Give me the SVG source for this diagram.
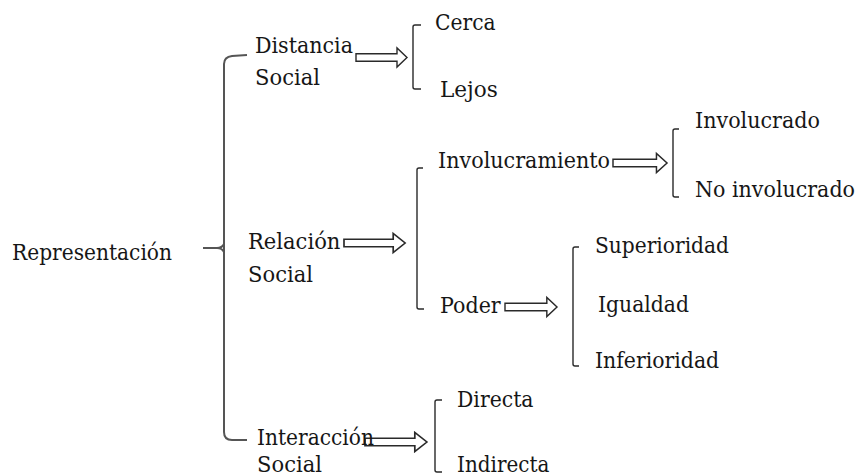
<svg xmlns="http://www.w3.org/2000/svg" width="864" height="476" viewBox="0 0 864 476">
<style>
text{font-family:"DejaVu Serif","Liberation Serif",serif;font-size:23px;fill:#161616}
.br{fill:none;stroke:#2a2a2a;stroke-width:1.4}
.main{fill:none;stroke:#555;stroke-width:2}
.arr{fill:#fff;stroke:#2a2a2a;stroke-width:1.4;stroke-linejoin:miter}
</style>
<defs>
<path id="harrow" d="M0,-3.7 H41 V-9.5 L51,0 L41,9.5 V3.7 H0 Z"/>
</defs>
<rect width="864" height="476" fill="#fff"/>
<g id="connectors">
<path class="main" d="M247,55 L232,56 Q224,57 224,64 L224,432 Q224,440 232,440 L247,440"/>
<path class="main" d="M203,248 L217,248 Q222,248 224,244 M217,248 Q222,248 224,252"/>
<path class="br" d="M421,25 L415,25 Q413,25 413,27 L413,87 Q413,89 415,89 L421,89"/>
<path class="br" d="M423,168 L419,168 Q417,168 417,170 L417,307 Q417,309 419,309 L424,309"/>
<path class="br" d="M679,129 L675,129 Q673,129 673,131 L673,195 Q673,197 675,197 L679,197"/>
<path class="br" d="M579,247 L575,247 Q573,247 573,249 L573,364 Q573,366 575,366 L579,366"/>
<path class="br" d="M442,400 L437,400 Q435,400 435,402 L435,470 Q435,472 437,472 L442,472"/>
<use href="#harrow" class="arr" transform="translate(356,57.5)"/>
<use href="#harrow" class="arr" transform="translate(344,243) scale(1.2,1)"/>
<use href="#harrow" class="arr" transform="translate(613,163) scale(1.06,1)"/>
<use href="#harrow" class="arr" transform="translate(505,307) scale(1.02,1)"/>
<use href="#harrow" class="arr" transform="translate(365,442) scale(1.215,1)"/>
</g>
<g id="representacion"><text x="12" y="260" textLength="160" lengthAdjust="spacingAndGlyphs">Representación</text></g>
<g id="distancia-social"><text x="255" y="53" textLength="98" lengthAdjust="spacingAndGlyphs">Distancia</text><text x="255" y="85" textLength="65" lengthAdjust="spacingAndGlyphs">Social</text></g>
<g id="cerca"><text x="435" y="30" textLength="60.6" lengthAdjust="spacingAndGlyphs">Cerca</text></g>
<g id="lejos"><text x="440" y="97" textLength="57.8" lengthAdjust="spacingAndGlyphs">Lejos</text></g>
<g id="relacion-social"><text x="248" y="249" textLength="92.4" lengthAdjust="spacingAndGlyphs">Relación</text><text x="248" y="282" textLength="65" lengthAdjust="spacingAndGlyphs">Social</text></g>
<g id="involucramiento"><text x="438" y="168" textLength="172" lengthAdjust="spacingAndGlyphs">Involucramiento</text></g>
<g id="involucrado"><text x="695" y="128" textLength="125" lengthAdjust="spacingAndGlyphs">Involucrado</text></g>
<g id="no-involucrado"><text x="695" y="197" textLength="160" lengthAdjust="spacingAndGlyphs">No involucrado</text></g>
<g id="poder"><text x="440" y="313" textLength="60.7" lengthAdjust="spacingAndGlyphs">Poder</text></g>
<g id="superioridad"><text x="595" y="253" textLength="134" lengthAdjust="spacingAndGlyphs">Superioridad</text></g>
<g id="igualdad"><text x="598" y="312" textLength="91" lengthAdjust="spacingAndGlyphs">Igualdad</text></g>
<g id="inferioridad"><text x="595" y="368" textLength="124.2" lengthAdjust="spacingAndGlyphs">Inferioridad</text></g>
<g id="interaccion-social"><text x="257" y="445" textLength="117" lengthAdjust="spacingAndGlyphs">Interacción</text><text x="257" y="472" textLength="65" lengthAdjust="spacingAndGlyphs">Social</text></g>
<g id="directa"><text x="457" y="407" textLength="76.5" lengthAdjust="spacingAndGlyphs">Directa</text></g>
<g id="indirecta"><text x="457" y="472" textLength="92.4" lengthAdjust="spacingAndGlyphs">Indirecta</text></g>
</svg>
